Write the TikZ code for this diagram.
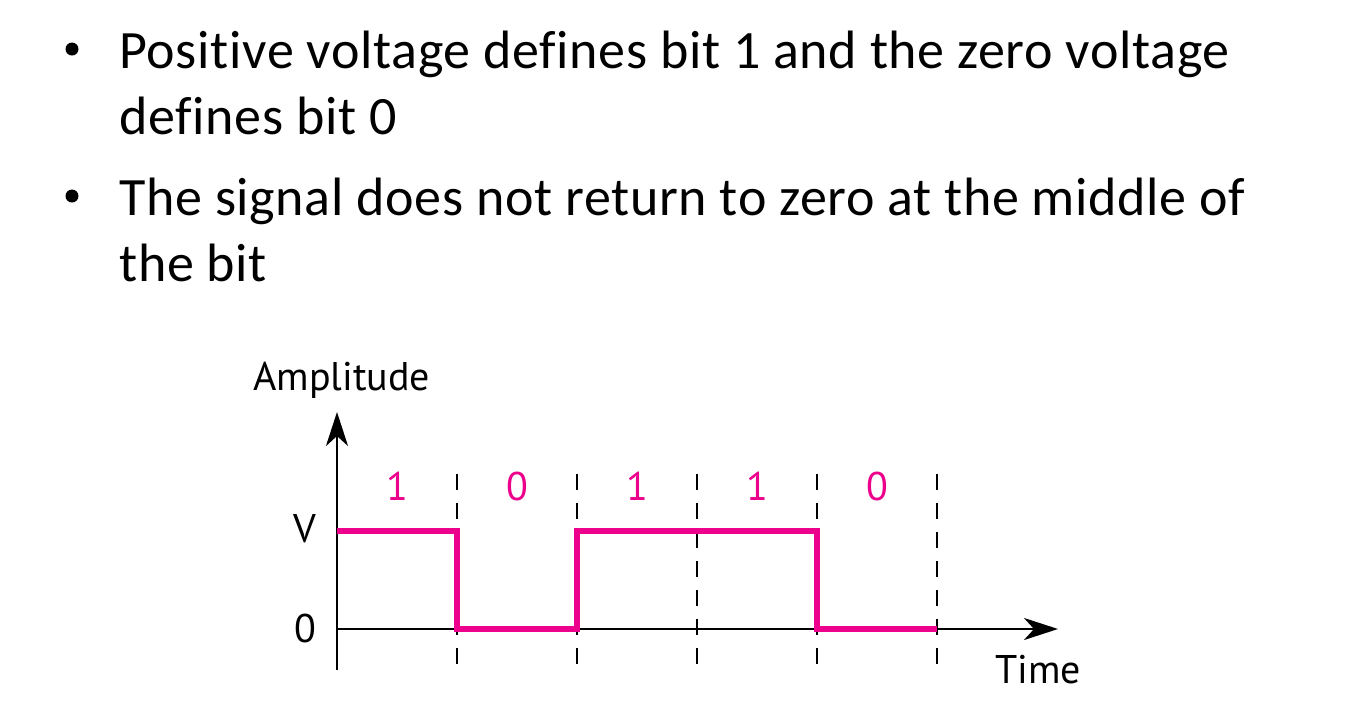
\documentclass[tikz,border=0pt]{standalone}
\usepackage{fontspec}
\setmainfont{Carlito}[Ligatures=NoCommon, LetterSpace=1.2]
\newfontfamily\figfont{PT Sans}
\usetikzlibrary{arrows.meta}
\definecolor{bitpink}{RGB}{236,0,140}
\tikzset{
  bullettext/.style={anchor=base west, font=\fontsize{27}{32}\selectfont, inner sep=0pt},
  dot/.style={circle, fill=black, inner sep=0pt, minimum size=6.5pt},
  axislabel/.style={font=\figfont\fontsize{20}{24}\selectfont, inner sep=0pt},
  bitlabel/.style={axislabel, text=bitpink},
  axis/.style={line width=1.4pt, -{Stealth[length=17pt,width=11pt,inset=5pt]}},
  boundary/.style={line width=1.2pt, dash pattern=on 8pt off 6.5pt},
  signal/.style={line width=3pt, bitpink}
}
\begin{document}
\begin{tikzpicture}[x=0.5pt, y=-0.5pt]
\useasboundingbox (0,0) rectangle (1356,708);
\node[dot] (b1) at (72,49) {};
\node[bullettext] (l1) at (119,68) {Positive voltage defines bit 1 and the zero voltage};
\node[bullettext] (l2) at (119,134) {defines bit 0};
\node[dot] (b2) at (72,196) {};
\node[bullettext] (l3) at (119,215) {The signal does not return to zero at the middle of};
\node[bullettext] (l4) at (119,281) {the bit};

\coordinate (O) at (337,629);
\coordinate (ytop) at (337,412);
\coordinate (ybot) at (337,670);
\coordinate (xend) at (1058,629);
\foreach \i/\b in {1/1,2/0,3/1,4/1,5/0} {
  \node[bitlabel] (bit\i) at ({277+120*\i},486) {\b};
  \draw[boundary] ({337+120*\i},474) -- ({337+120*\i},670);
}
\draw[axis] (ybot) -- (ytop);
\draw[axis] (O) -- (xend);
\node[axislabel, anchor=base west] (amp) at (253,390) {Amplitude};
\node[axislabel, anchor=base] (time) at (1038,683) {Time};
\node[axislabel] (vlab) at (305,529) {V};
\node[axislabel] (zlab) at (305,628) {0};
\draw[signal] (337,531) -| (457,629) -| (577,531) -| (817,629) -- (937,629);
\end{tikzpicture}
\end{document}
